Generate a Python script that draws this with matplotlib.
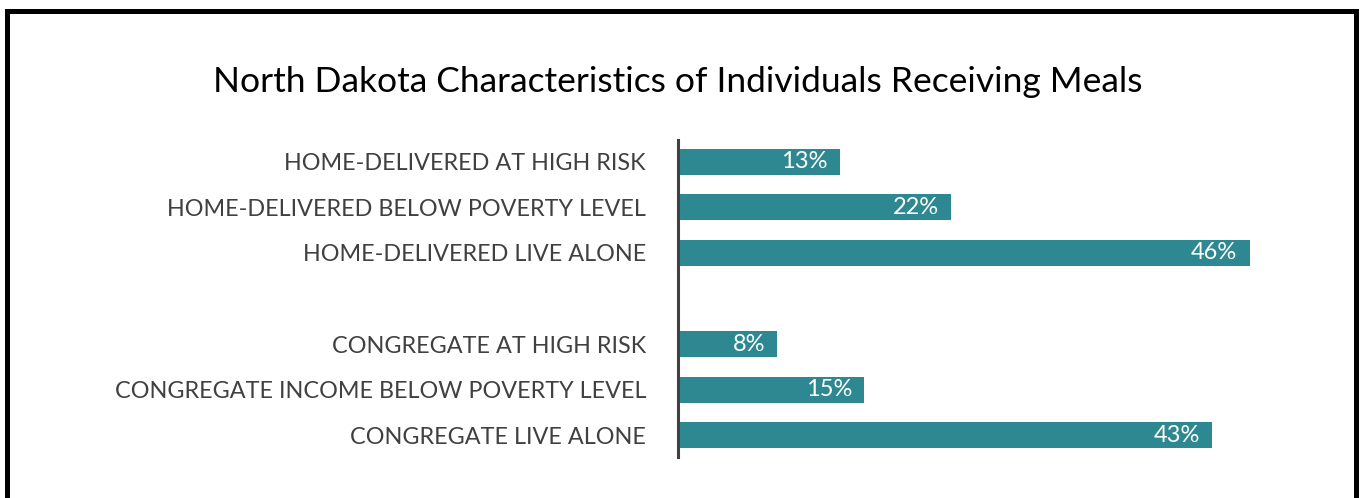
import matplotlib
matplotlib.use("Agg")
import matplotlib.pyplot as plt
from matplotlib.patches import Rectangle

# ── Data ──────────────────────────────────────────────────────────────────────
categories = [
    "HOME-DELIVERED AT HIGH RISK",
    "HOME-DELIVERED BELOW POVERTY LEVEL",
    "HOME-DELIVERED LIVE ALONE",
    "CONGREGATE AT HIGH RISK",
    "CONGREGATE INCOME BELOW POVERTY LEVEL",
    "CONGREGATE LIVE ALONE",
]
values = [13, 22, 46, 8, 15, 43]
positions = [0, 1, 2, 4, 5, 6]   # empty slot between the two groups

bar_color = "#2E8891"
label_color = "#404040"

plt.rcParams["font.family"] = ["Lato", "DejaVu Sans"]

fig = plt.figure(figsize=(13.6, 4.98), dpi=100)
fig.patch.set_facecolor("white")

# frame round the whole slide
fig.patches.append(Rectangle((7 / 1360, -0.05), 1348.5 / 1360, 1 - 11 / 498 + 0.05,
                             transform=fig.transFigure, fill=False,
                             edgecolor="black", linewidth=3.6))

ax = fig.add_axes([678 / 1360, 1 - 457 / 498, 621.5 / 1360, 317 / 498])

bars = ax.barh(positions, values, height=0.57, color=bar_color,
               edgecolor="none")

for bar, val in zip(bars, values):
    ax.text(bar.get_width() - 1.0, bar.get_y() + bar.get_height() / 2,
            f"{val}%", ha="right", va="center", color="white", fontsize=17)

ax.set_xlim(0, 50)
ax.set_ylim(6.48, -0.48)
ax.set_yticks(positions)
ax.set_yticklabels(categories, color=label_color, fontsize=16.8)
ax.tick_params(axis="y", length=0, pad=23)
ax.set_xticks([])

for side in ["top", "right", "bottom"]:
    ax.spines[side].set_visible(False)
ax.spines["left"].set_color("#404040")
ax.spines["left"].set_linewidth(2.2)

fig.text(678 / 1360, 1 - 92 / 498,
         "North Dakota Characteristics of Individuals Receiving Meals",
         ha="center", va="baseline", fontsize=25.5, color="black")

fig.savefig("out.png", dpi=100, facecolor="white")
